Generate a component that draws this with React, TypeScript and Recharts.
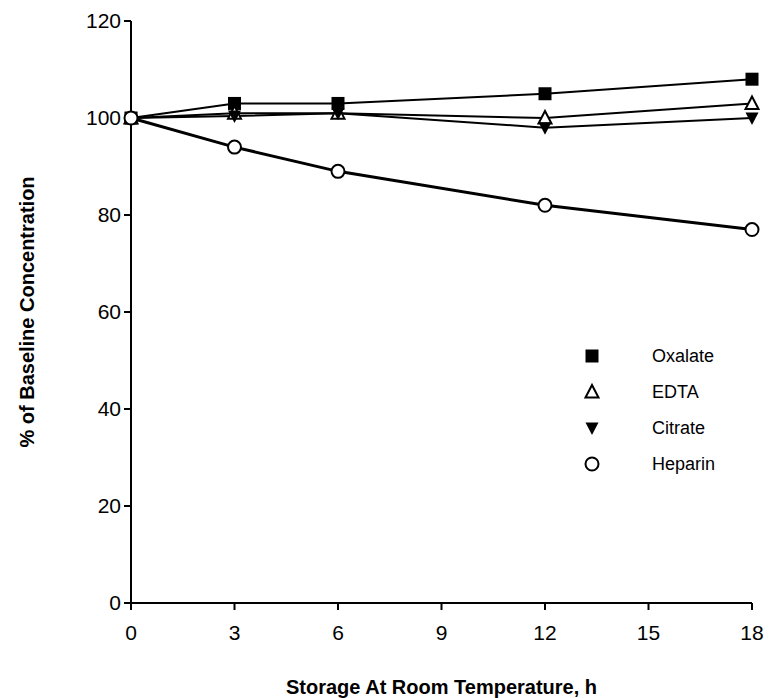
import React from 'react'
import { LineChart, Line, XAxis, YAxis, Legend } from 'recharts'

document.body.style.margin = '0'

const hours = [0, 3, 6, 12, 18]
const oxalate = [100, 103, 103, 105, 108]
const edta = [100, 101, 101, 100, 103]
const citrate = [100, 100.4, 101, 98, 100]
const heparin = [100, 94, 89, 82, 77]

const xTicks = [0, 3, 6, 9, 12, 15, 18]
const yTicks = [0, 20, 40, 60, 80, 100, 120]

const data = hours.map((h, i) => ({
  h,
  oxalate: oxalate[i],
  edta: edta[i],
  citrate: citrate[i],
  heparin: heparin[i],
}))

const FONT = '"Liberation Sans", Arial, sans-serif'

type Shape = 'square' | 'triangle' | 'down' | 'circle'

function Marker({ cx, cy, shape }: { cx: number; cy: number; shape: Shape }) {
  if (cx == null || cy == null) return null
  if (shape === 'square') return <rect x={cx - 6.5} y={cy - 6.5} width={13} height={13} fill="#000" />
  if (shape === 'triangle')
    return <polygon points={`${cx},${cy - 7} ${cx + 6.5},${cy + 5.5} ${cx - 6.5},${cy + 5.5}`} fill="#fff" stroke="#000" strokeWidth={2} />
  if (shape === 'down')
    return <polygon points={`${cx - 6.5},${cy - 5.5} ${cx + 6.5},${cy - 5.5} ${cx},${cy + 7}`} fill="#000" />
  return <circle cx={cx} cy={cy} r={6.5} fill="#fff" stroke="#000" strokeWidth={2} />
}

const series: { key: string; name: string; shape: Shape; width: number }[] = [
  { key: 'oxalate', name: 'Oxalate', shape: 'square', width: 2 },
  { key: 'edta', name: 'EDTA', shape: 'triangle', width: 2 },
  { key: 'citrate', name: 'Citrate', shape: 'down', width: 2 },
  { key: 'heparin', name: 'Heparin', shape: 'circle', width: 3 },
]

function LegendBox() {
  return (
    <div style={{ fontFamily: FONT, fontSize: 18, color: '#000' }}>
      {series.map((s) => (
        <div key={s.key} style={{ display: 'flex', alignItems: 'center', height: 36 }}>
          <svg width={24} height={24} style={{ marginRight: 48 }}>
            <Marker cx={12} cy={12} shape={s.shape} />
          </svg>
          <span>{s.name}</span>
        </div>
      ))}
    </div>
  )
}

export default function App() {
  return (
    <LineChart width={769} height={698} data={data} margin={{ top: 21, right: 17, bottom: 65, left: 60 }}>
      <XAxis
        dataKey="h"
        type="number"
        domain={[0, 18]}
        ticks={xTicks}
        height={30}
        axisLine={{ stroke: '#000', strokeWidth: 2 }}
        tickLine={{ stroke: '#000', strokeWidth: 2 }}
        tickSize={7}
        tickMargin={15}
        tick={{ fill: '#000', fontSize: 21, fontFamily: FONT }}
        label={{
          value: 'Storage At Room Temperature, h',
          position: 'bottom',
          offset: 47,
          style: { fill: '#000', fontSize: 20, fontWeight: 'bold', fontFamily: FONT },
        }}
      />
      <YAxis
        type="number"
        domain={[0, 120]}
        ticks={yTicks}
        width={71}
        axisLine={{ stroke: '#000', strokeWidth: 2 }}
        tickLine={{ stroke: '#000', strokeWidth: 2 }}
        tickSize={7}
        tickMargin={3}
        tick={{ fill: '#000', fontSize: 21, fontFamily: FONT }}
        label={{
          value: '% of Baseline Concentration',
          angle: -90,
          position: 'insideLeft',
          offset: -33,
          style: { fill: '#000', fontSize: 20, fontWeight: 'bold', fontFamily: FONT, textAnchor: 'middle' },
        }}
      />
      <Legend
        layout="horizontal"
        verticalAlign="middle"
        align="center"
        wrapperStyle={{ top: 338, left: 580, width: 170 }}
        content={() => <LegendBox />}
      />
      {series.map((s) => (
        <Line
          key={s.key}
          dataKey={s.key}
          name={s.name}
          stroke="#000"
          strokeWidth={s.width}
          isAnimationActive={false}
          dot={(p: any) => <Marker key={`${s.key}-${p.index}`} cx={p.cx} cy={p.cy} shape={s.shape} />}
          activeDot={false}
        />
      ))}
    </LineChart>
  )
}
